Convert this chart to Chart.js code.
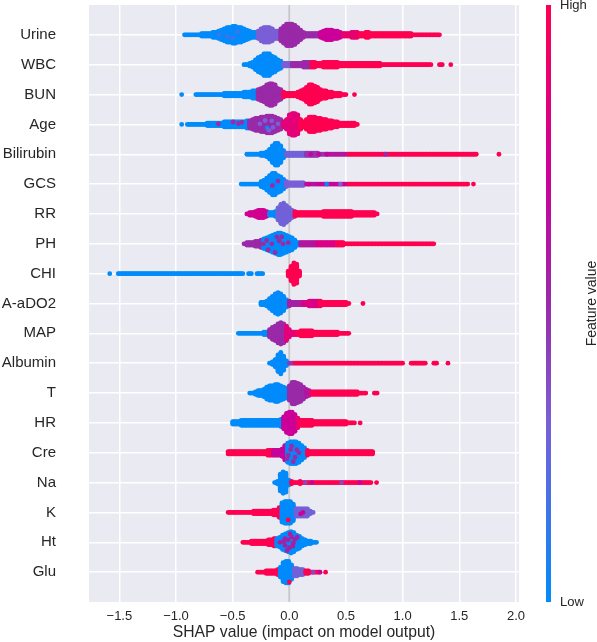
<!DOCTYPE html>
<html>
<head>
<meta charset="utf-8">
<style>html,body{margin:0;padding:0;background:#fff}canvas{display:block}</style>
<script src="https://cdn.jsdelivr.net/npm/chart.js@4/dist/chart.umd.min.js"></script>
</head>
<body>
<canvas id="chart" width="597" height="642"></canvas>
<script>
const features = ['Urine','WBC','BUN','Age','Bilirubin','GCS','RR','PH','CHI','A-aDO2','MAP','Albumin','T','HR','Cre','Na','K','Ht','Glu'];
const xTicks = [-1.5,-1,-0.5,0,0.5,1,1.5,2];
const binWidth = 0.025;

// first bin of each swarm, same order as features
const binStarts = [-0.925,-0.4,-0.95,-0.95,-0.375,-0.425,-0.375,-0.4,-1.585,-0.25,-0.45,-0.175,-0.35,-0.5,-0.54,-0.13,-0.54,-0.41,-0.28];

// dots stacked per side in each bin
const urineBins = [1,1,1,1,1,1,2,2,2,2,3,3,4,5,6,7,7,8,8,7,7,6,5,4,3,3,4,6,7,7,7,6,4,4,6,8,10,10,10,9,7,5,3,2,2,2,2,2,3,4,5,5,5,4,4,3,2,2,2,3,3,3,2,2,3,3,2,2,2,2,2,2,2,2,2,2,2,2,2,2,2,1,1,1,1,1,1,1,1,1,1];
const wbcBins = [1,1,2,3,5,7,8,10,10,10,8,7,5,4,2,2,2,2,2,2,2,3,3,3,3,3,2,2,3,3,3,3,3,3,2,2,2,2,2,2,2,2,2,2,2,2,2,2,2,1,1,1,1,1,1,1,1,1,1,1,1,1,1,1,1,1,1,0,0,1,1,0,0,1];
const bunBins = [1,0,0,0,0,1,1,1,1,1,1,1,1,1,1,2,2,2,2,2,2,2,3,3,3,4,4,5,6,7,9,10,10,9,6,5,3,2,2,2,2,3,4,5,7,9,9,8,7,5,4,4,3,3,2,2,2,1,1,0,0,1];
const ageBins = [1,0,1,1,1,1,1,1,1,2,2,2,2,2,2,3,3,3,3,3,3,3,3,4,4,5,6,6,7,7,8,8,8,7,6,5,3,5,9,10,10,9,5,3,5,7,7,7,6,6,5,5,4,4,3,3,2,2,2,2,2,2,1];
const bilirubinBins = [1,1,1,1,1,2,2,3,5,8,10,10,8,4,2,2,2,2,2,2,2,2,2,2,2,2,1,1,1,1,1,1,1,1,1,1,1,1,1,1,1,1,1,1,1,1,1,1,1,1,1,1,1,1,1,1,1,1,1,1,1,1,1,1,1,1,1,1,1,1,1,1,1,1,1,1,1,1,1,1,1,1,0,0,0,0,0,0,0,1];
const gcsBins = [1,1,1,1,1,1,1,3,4,6,8,10,10,8,7,5,3,2,2,2,2,2,2,1,1,1,1,1,1,1,1,1,1,1,1,1,1,1,1,1,1,1,1,1,1,1,1,1,1,1,1,1,1,1,1,1,1,1,1,1,1,1,1,1,1,1,1,1,1,1,1,1,1,1,1,1,1,1,1,1,1,0,1];
const rrBins = [1,2,2,3,4,4,4,3,2,2,3,6,9,10,8,6,4,3,2,2,2,2,2,2,2,2,2,3,3,3,3,3,3,3,3,3,3,3,2,2,2,2,2,2,2,2,1];
const phBins = [1,2,2,2,3,3,4,5,6,7,8,9,10,10,9,8,7,6,4,2,2,2,2,2,2,2,2,2,2,2,2,2,2,2,2,2,1,1,1,1,1,1,1,1,1,1,1,1,1,1,1,1,1,1,1,1,1,1,1,1,1,1,1,1,1,1,1,1];
const chiBins = [1,0,0,1,1,1,1,1,1,1,1,1,1,1,1,1,1,1,1,1,1,1,1,1,1,1,1,1,1,1,1,1,1,1,1,1,1,1,1,1,1,1,1,1,1,1,1,1,0,1,1,0,1,1,1,0,0,0,0,0,0,0,0,3,7,10,9,3];
const aado2Bins = [2,2,3,5,7,9,10,9,7,4,3,2,2,2,2,2,2,3,3,3,3,3,2,2,2,2,2,2,2,2,2,1,0,0,0,0,1];
const mapBins = [1,1,1,1,1,1,1,1,1,2,2,4,6,7,9,10,9,7,4,2,2,2,3,3,3,3,3,2,2,2,2,2,2,2,2,2,1,1,1,1];
const albuminBins = [1,2,4,8,10,7,3,1,1,1,1,1,1,1,1,1,1,1,1,1,1,1,1,1,1,1,1,1,1,1,1,1,1,1,1,1,1,1,1,1,1,1,1,1,1,1,1,1,0,0,1,1,1,1,1,1,0,0,1,1,0,0,0,1];
const tBins = [1,1,2,3,3,4,6,7,7,8,8,7,6,5,7,10,10,9,8,6,4,3,2,2,2,2,2,2,2,2,2,2,2,2,2,2,2,2,2,1,1,1,0,0,1,1];
const hrBins = [2,2,2,3,3,3,3,3,3,3,3,3,3,3,3,3,3,4,6,9,10,10,8,5,3,3,3,3,3,2,2,2,2,2,2,2,2,2,2,2,2,1,1,1,0,1];
const creBins = [2,2,2,2,2,2,2,2,2,2,2,2,2,2,3,3,3,3,3,4,7,9,10,10,10,9,7,5,3,2,2,2,2,2,2,2,2,2,2,2,2,2,2,2,2,2,2,2,2,2,2,2];
const naBins = [1,2,8,10,9,3,2,1,1,2,1,1,1,1,1,1,1,1,1,1,1,1,1,1,1,1,1,1,1,1,1,1,1,1,1,0,1];
const kBins = [1,1,1,1,1,1,1,1,1,2,2,2,2,2,2,2,3,3,5,9,10,10,10,8,4,4,4,4,4,2,1];
const htBins = [1,1,1,2,2,2,2,2,2,3,3,4,4,5,7,8,9,10,9,7,6,4,3,2,2,1,1];
const gluBins = [1,1,1,2,2,2,2,3,5,9,10,10,7,4,4,3,3,2,2,1,1,1,1,0,1];

// colour of each stretch of a swarm: [up to this SHAP value, feature value 0..1]
const urineColors = [[-0.30,0],[-0.08,0.3],[0.25,0.5],[0.45,0.72],[0.62,0.88],[9,1]];
const wbcColors = [[-0.07,0],[0.02,0.3],[0.2,0.5],[9,1]];
const bunColors = [[-0.29,0],[-0.06,0.5],[9,1]];
const ageColors = [[-0.36,0],[-0.06,0.5],[0.1,0.85],[9,1]];
const bilirubinColors = [[-0.04,0],[0.14,0.28],[0.33,0.45],[0.5,0.6],[9,1]];
const gcsColors = [[-0.03,0],[0.15,0.3],[0.25,0.6],[0.5,0.7],[9,1]];
const rrColors = [[-0.19,0.75],[-0.12,0],[0.05,0.28],[9,1]];
const phColors = [[-0.24,0.5],[0.08,0],[0.24,0.6],[0.42,0.8],[9,1]];
const chiColors = [[-0.1,0],[9,1]];
const aado2Colors = [[-0.01,0],[0.12,0.55],[0.25,0.8],[9,1]];
const mapColors = [[-0.2,0],[-0.03,0.5],[0.06,0.85],[9,1]];
const albuminColors = [[-0.02,0],[0.05,0.45],[9,1]];
const tColors = [[-0.01,0],[0.15,0.5],[0.2,0.6],[9,1]];
const hrColors = [[-0.07,0],[0.06,0.72],[0.1,0.85],[9,1]];
const creColors = [[-0.15,1],[-0.04,0.7],[0.16,0],[9,1]];
const naColors = [[0,0],[0.02,0.5],[9,1]];
const kColors = [[-0.09,1],[0.04,0],[9,0.28]];
const htColors = [[-0.125,1],[9,0]];
const gluColors = [[-0.1,1],[0.04,0],[0.12,0.28],[9,1]];

// single dots that stand out of their stretch: [SHAP value, offset in rows, feature value]
const urineDots = [[-0.55,0.05,0.15],[-0.46,-0.1,0.15],[-0.5,0.1,0.15],[-0.62,0,0.15]];
const ageDots = [[-0.626,-0.02,0.5],[-0.497,-0.08,0.5],[-0.45,-0.03,0.5],[-0.42,-0.07,0.5],[-0.347,0,0.5],[-0.3,-0.06,0.5],[-0.3,0.06,0.5],[-0.195,0.12,0],[-0.26,-0.02,0.3],[-0.214,-0.13,0.3],[-0.155,-0.12,0.3],[-0.144,0.1,0.3],[-0.1,-0.02,0.3],[-0.18,0.2,0.3]];
const phDots = [[-0.23,0,0.5],[-0.187,0.2,0.5],[-0.155,0,0.5],[-0.126,0.29,0.5],[-0.11,-0.23,0.5],[-0.067,-0.23,0.5],[-0.056,0,0.5],[-0.2,-0.11,0.5],[-0.01,-0.04,0.5],[-0.09,-0.1,0.5]];
const gcsDots = [[-0.15,0.05,0.5],[-0.1,-0.1,0.5],[0.33,0,0],[0.45,0,0.3],[0.17,0,0.75]];
const bilirubinDots = [[0.19,0,0.7],[0.26,0,0.7],[0.33,0,0.7],[0.85,0,0.5]];
const creDots = [[0.012,-0.1,0.5],[0.065,-0.1,0.5],[-0.01,0.08,0.5],[0.05,0.15,0.5],[-0.02,0.2,0.5],[0.02,-0.23,0.5],[0.085,0,0.5],[0.035,0.3,0.5]];
const naDots = [[0.14,0,0.4],[0.46,0,0.4],[0.2,0,0.7],[0.62,0,0.7]];
const kDots = [[-0.01,0.25,1],[0.12,0,0.7],[0.1,0.05,0.7]];
const htDots = [[-0.038,-0.12,0.55],[0.006,-0.28,0.55],[-0.082,0,0.55],[-0.038,0.1,0.55],[0,0.18,0.55],[0.035,0.03,0.55],[0.05,-0.1,0.55],[-0.01,-0.08,0.55],[0.02,-0.18,0.55],[-0.05,-0.03,0.55],[0.07,-0.17,0.55],[0.03,0.13,0.55],[-0.02,0.28,0.55]];
const gluDots = [[0.21,0,0.4],[0.27,0,0.7],[0,0.33,1]];

const swarmBins = [urineBins,wbcBins,bunBins,ageBins,bilirubinBins,gcsBins,rrBins,phBins,chiBins,aado2Bins,mapBins,albuminBins,tBins,hrBins,creBins,naBins,kBins,htBins,gluBins];
const swarmColors = [urineColors,wbcColors,bunColors,ageColors,bilirubinColors,gcsColors,rrColors,phColors,chiColors,aado2Colors,mapColors,albuminColors,tColors,hrColors,creColors,naColors,kColors,htColors,gluColors];
const swarmDots = [urineDots,[],[],ageDots,bilirubinDots,gcsDots,[],phDots,[],[],[],[],[],[],creDots,naDots,kDots,htDots,gluDots];

// feature value colour ramp, low to high
const rampStops = [0,0.3,0.5,0.72,1];
const rampColors = ['#008bfb','#7a5fd6','#9a2aa8','#cc0099','#ff0051'];
const stackStep = 0.04;

function rampColor(v) {
    let i = 0;
    while (i < rampStops.length - 2 && v > rampStops[i + 1]) i++;
    const t = (v - rampStops[i]) / (rampStops[i + 1] - rampStops[i]);
    const ch = s => [1, 3, 5].map(p => parseInt(s.substr(p, 2), 16));
    const ca = ch(rampColors[i]), cb = ch(rampColors[i + 1]);
    return `rgb(${ca.map((c, k) => Math.round(c + (cb[k] - c) * t)).join(',')})`;
}

function stretchValue(stretches, x) {
    for (const s of stretches) if (x <= s[0]) return s[1];
    return 1;
}

const pts = [];
const ptColors = [];

function stackDots(x, row, n, col) {
    for (let j = 0; j < n; j++) {
        pts.push({ x, y: row + j * stackStep });
        ptColors.push(col);
        if (j > 0) {
            pts.push({ x, y: row - j * stackStep });
            ptColors.push(col);
        }
    }
}

features.forEach((f, row) => {
    const bins = swarmBins[row];
    bins.forEach((n, k) => {
        const x = binStarts[row] + k * binWidth;
        const col = rampColor(stretchValue(swarmColors[row], x));
        stackDots(x, row, n, col);
        // a bin's dots spread over its width when the swarm runs on into the next bin
        if (n > 0 && bins[k + 1] > 0) stackDots(x + binWidth / 2, row, Math.min(n, bins[k + 1]), col);
    });
    swarmDots[row].forEach(d => {
        pts.push({ x: d[0], y: row + d[1] });
        ptColors.push(rampColor(d[2]));
    });
});

const plotBackdrop = {
    id: 'plotBackdrop',
    beforeDraw(c) {
        const a = c.chartArea, g = c.ctx;
        g.save();
        g.fillStyle = '#eaeaf2';
        g.fillRect(a.left, a.top, a.right - a.left, a.bottom - a.top);
        g.restore();
    }
};

const colorBar = {
    id: 'colorBar',
    afterDraw(c) {
        const a = c.chartArea, g = c.ctx;
        g.save();
        const grad = g.createLinearGradient(0, a.bottom, 0, a.top);
        rampStops.forEach((s, i) => grad.addColorStop(s, rampColors[i]));
        g.fillStyle = grad;
        g.fillRect(546, a.top, 5, a.bottom - a.top);
        g.fillStyle = '#262626';
        g.font = '13px "Liberation Sans"';
        g.textBaseline = 'middle';
        g.fillText('High', 560, a.top);
        g.fillText('Low', 560, a.bottom);
        g.font = '14px "Liberation Sans"';
        g.translate(592, (a.top + a.bottom) / 2);
        g.rotate(-Math.PI / 2);
        g.textAlign = 'center';
        g.fillText('Feature value', 0, 0);
        g.restore();
    }
};

new Chart(document.getElementById('chart').getContext('2d'), {
    type: 'scatter',
    data: {
        datasets: [{
            data: pts,
            pointBackgroundColor: ptColors,
            pointBorderWidth: 0,
            pointRadius: 2.4,
            order: 0
        }, {
            type: 'line',
            data: [{ x: 0, y: -1 }, { x: 0, y: 19 }],
            borderColor: '#c8c8cc',
            borderWidth: 2,
            pointRadius: 0,
            order: 1
        }]
    },
    options: {
        responsive: false,
        animation: false,
        layout: { padding: { top: 5, right: 78, left: 0, bottom: 0 } },
        plugins: { legend: { display: false }, tooltip: { enabled: false } },
        scales: {
            x: {
                type: 'linear',
                min: -1.768,
                max: 2.027,
                afterBuildTicks: s => { s.ticks = xTicks.map(value => ({ value })); },
                afterFit: s => { s.height = 40; },
                grid: { color: '#ffffff', lineWidth: 1.5, drawTicks: false },
                border: { display: false },
                ticks: {
                    color: '#262626',
                    font: { family: 'Liberation Sans', size: 13 },
                    padding: 7,
                    maxRotation: 0,
                    callback: v => v.toFixed(1).replace('-', '\u2212')
                },
                title: {
                    display: true,
                    text: 'SHAP value (impact on model output)',
                    color: '#262626',
                    font: { family: 'Liberation Sans', size: 15.7 },
                    padding: { top: 0, bottom: 0 }
                }
            },
            y: {
                type: 'linear',
                reverse: true,
                min: -1,
                max: 19,
                afterBuildTicks: s => { s.ticks = features.map((f, value) => ({ value })); },
                afterFit: s => { s.width = 89; s.paddingTop = 0; s.paddingBottom = 0; },
                grid: { color: '#ffffff', lineWidth: 1.5, drawTicks: false },
                border: { display: false },
                ticks: {
                    color: '#262626',
                    font: { family: 'Liberation Sans', size: 15 },
                    padding: 33,
                    callback: v => features[v]
                }
            }
        }
    },
    plugins: [plotBackdrop, colorBar]
});
</script>
</body>
</html>
